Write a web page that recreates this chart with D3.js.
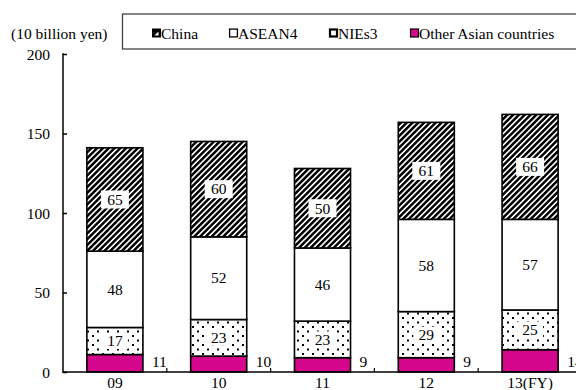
<!DOCTYPE html>
<html>
<head>
<meta charset="utf-8">
<script src="https://cdn.jsdelivr.net/npm/d3@7"></script>
<style>
  html, body { margin: 0; padding: 0; background: #fff; }
</style>
</head>
<body>
<svg id="chart" width="576" height="390"></svg>
<script>
// Fiscal years on the x axis
const years = ["09", "10", "11", "12", "13(FY)"];
// Values in units of 10 billion yen
const other = [11, 10, 9, 9, 14];
const nies3 = [17, 23, 23, 29, 25];
const asean4 = [48, 52, 46, 58, 57];
const china = [65, 60, 50, 61, 66];
const yTicks = [0, 50, 100, 150, 200];

const series = [
  { key: "other", name: "Other Asian countries", values: other },
  { key: "nies3", name: "NIEs3", values: nies3 },
  { key: "asean4", name: "ASEAN4", values: asean4 },
  { key: "china", name: "China", values: china }
];

const FONT = "'Liberation Serif'";
const FS = 15.5;
const svg = d3.select("#chart");
const txt = sel => sel.style("font-family", FONT).style("font-size", FS + "px").attr("fill", "#000");

const x = d3.scaleBand().domain(years).range([63, 582]).paddingInner(0.46).paddingOuter(0.23);
const y = d3.scaleLinear().domain([0, 200]).range([372, 54]);

// Fill patterns: diagonal hatch for China, sparse dots for NIEs3
const defs = svg.append("defs");
const hatch = defs.append("pattern").attr("id", "hatch").attr("patternUnits", "userSpaceOnUse")
  .attr("width", 4.1).attr("height", 4.1).attr("patternTransform", "rotate(45)");
hatch.append("rect").attr("width", 4.1).attr("height", 4.1).attr("fill", "#fff");
hatch.append("rect").attr("width", 2.5).attr("height", 4.1).attr("fill", "#000");

const dots = defs.append("pattern").attr("id", "dots").attr("patternUnits", "userSpaceOnUse")
  .attr("width", 10).attr("height", 9);
dots.append("rect").attr("width", 10).attr("height", 9).attr("fill", "#fff");
dots.append("rect").attr("x", 2).attr("y", 2).attr("width", 2).attr("height", 2).attr("fill", "#000");
dots.append("rect").attr("x", 7).attr("y", 6.5).attr("width", 2).attr("height", 2).attr("fill", "#000");

const fills = { other: "#d4068c", nies3: "url(#dots)", asean4: "#fff", china: "url(#hatch)" };

const stacked = d3.stack().keys(series.map(s => s.key))(
  years.map((yr, i) => ({ year: yr, other: other[i], nies3: nies3[i], asean4: asean4[i], china: china[i] }))
);

// Bars
stacked.forEach(layer => {
  const g = svg.append("g");
  g.selectAll("rect").data(layer).join("rect")
    .attr("x", d => x(d.data.year))
    .attr("y", d => y(d[1]))
    .attr("width", x.bandwidth())
    .attr("height", d => y(d[0]) - y(d[1]))
    .attr("fill", fills[layer.key])
    .attr("stroke", "#000")
    .attr("stroke-width", 1.6);
});

// Segment labels (white boxes behind labels on patterned fills)
stacked.forEach(layer => {
  if (layer.key === "other") return;
  const g = svg.append("g");
  layer.forEach(d => {
    const cx = x(d.data.year) + x.bandwidth() / 2;
    const cy = (y(d[0]) + y(d[1])) / 2;
    const val = d[1] - d[0];
    if (layer.key !== "asean4") {
      const bw = layer.key === "china" ? 28 : 26;
      const bh = layer.key === "china" ? 18 : 16;
      g.append("rect").attr("x", cx - bw / 2).attr("y", cy - bh / 2)
        .attr("width", bw).attr("height", bh).attr("fill", "#fff");
    }
    g.append("text").attr("x", cx).attr("y", cy).attr("dy", "0.34em")
      .attr("text-anchor", "middle").call(txt).text(val);
  });
});

// Other Asian countries labels beside each bar
svg.append("g").selectAll("text").data(stacked[0]).join("text")
  .attr("x", d => x(d.data.year) + x.bandwidth() + 9)
  .attr("y", 367)
  .call(txt)
  .text(d => d[1] - d[0]);

// Y axis: ticks point inward
const yAxis = d3.axisRight(y).tickValues(yTicks).tickSize(4).tickFormat(d3.format("d"));
const ya = svg.append("g").attr("transform", "translate(63,0)").call(yAxis);
ya.select(".domain").remove();
svg.append("line").attr("x1", 63).attr("x2", 63).attr("y1", 53.3).attr("y2", 372)
  .attr("stroke", "#000").attr("stroke-width", 1.5);
ya.selectAll(".tick line").attr("stroke-width", 1.5);
ya.selectAll(".tick text").attr("x", -13).attr("dy", "0.34em").attr("text-anchor", "end").call(txt);

// X axis: baseline with category separator ticks
svg.append("line").attr("x1", 62).attr("x2", 576).attr("y1", 372).attr("y2", 372)
  .attr("stroke", "#000").attr("stroke-width", 1.5);
const step = x.step();
svg.append("g").selectAll("line").data(years.slice(0, -1)).join("line")
  .attr("x1", d => x(d) + x.bandwidth() / 2 + step / 2)
  .attr("x2", d => x(d) + x.bandwidth() / 2 + step / 2)
  .attr("y1", 372).attr("y2", 368).attr("stroke", "#000").attr("stroke-width", 1.2);
svg.append("g").selectAll("text").data(years).join("text")
  .attr("x", d => x(d) + x.bandwidth() / 2)
  .attr("y", 387.5).attr("text-anchor", "middle")
  .call(txt)
  .text(d => d);

// Unit label
svg.append("text").attr("x", 11).attr("y", 39).call(txt).text("(10 billion yen)");

// Legend
svg.append("rect").attr("x", 122.5).attr("y", 14).attr("width", 470).attr("height", 35)
  .attr("fill", "#fff").attr("stroke", "#444").attr("stroke-width", 1.3);
const legendItems = [
  { key: "china", name: "China", x: 152 },
  { key: "asean4", name: "ASEAN4", x: 229 },
  { key: "nies3", name: "NIEs3", x: 329 },
  { key: "other", name: "Other Asian countries", x: 410 }
];
const lg = svg.append("g");
legendItems.forEach(it => {
  const sx = it.x, sy = 33;
  if (it.key === "china") {
    lg.append("rect").attr("x", sx).attr("y", sy - 4.5).attr("width", 9).attr("height", 9).attr("fill", "#000");
    lg.append("path").attr("d", `M${sx + 2.5},${sy + 2.5}L${sx + 6.5},${sy - 1.5}V${sy + 2.5}Z`).attr("fill", "#fff");
  } else if (it.key === "asean4") {
    lg.append("rect").attr("x", sx + 0.6).attr("y", sy - 3.9).attr("width", 7.8).attr("height", 7.8)
      .attr("fill", "#fff").attr("stroke", "#000").attr("stroke-width", 1.3);
  } else if (it.key === "nies3") {
    lg.append("rect").attr("x", sx + 1).attr("y", sy - 3.5).attr("width", 7).attr("height", 7)
      .attr("fill", "#fff").attr("stroke", "#000").attr("stroke-width", 2.2);
  } else {
    lg.append("rect").attr("x", sx + 0.5).attr("y", sy - 4).attr("width", 8).attr("height", 8)
      .attr("fill", fills.other).attr("stroke", "#000").attr("stroke-width", 1.2);
  }
  lg.append("text").attr("x", sx + 9).attr("y", sy + 5.5).call(txt).text(it.name);
});
</script>
</body>
</html>
